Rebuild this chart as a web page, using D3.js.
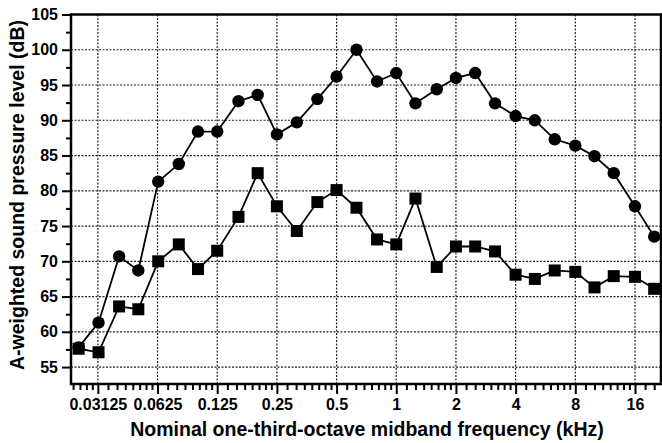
<!DOCTYPE html>
<html>
<head>
<meta charset="utf-8">
<script src="https://cdn.jsdelivr.net/npm/d3@7"></script>
<style>
  body { margin: 0; background: #fff; }
  text { font-family: "Liberation Sans", Arial, sans-serif; }
</style>
</head>
<body>
<div id="container"></div>
<script>
/* CONSTANTS AND GLOBALS */
const width = 662;
const height = 443;
const margin = { top: 14.5, right: 1, bottom: 59, left: 71 };

// nominal one-third-octave midband frequencies (kHz)
const frequencies = [0.025, 0.0315, 0.04, 0.05, 0.063, 0.08, 0.1, 0.125, 0.16, 0.2,
  0.25, 0.315, 0.4, 0.5, 0.63, 0.8, 1, 1.25, 1.6, 2,
  2.5, 3.15, 4, 5, 6.3, 8, 10, 12.5, 16, 20];

// circles
const levelA = [57.8, 61.3, 70.7, 68.7, 81.3, 83.8, 88.4, 88.4, 92.7, 93.6,
  88.0, 89.7, 93.0, 96.2, 100.0, 95.5, 96.7, 92.4, 94.4, 96.0,
  96.7, 92.4, 90.6, 90.0, 87.3, 86.4, 84.9, 82.5, 77.8, 73.5];

// squares
const levelB = [57.6, 57.1, 63.6, 63.2, 70.0, 72.4, 68.9, 71.5, 76.3, 82.5,
  77.8, 74.3, 78.4, 80.1, 77.6, 73.1, 72.4, 78.9, 69.2, 72.1,
  72.1, 71.4, 68.1, 67.5, 68.7, 68.5, 66.3, 67.9, 67.8, 66.1];

const xTicks = [0.03125, 0.0625, 0.125, 0.25, 0.5, 1, 2, 4, 8, 16];
const xTickLabels = ["0.03125", "0.0625", "0.125", "0.25", "0.5", "1", "2", "4", "8", "16"];
const yTicks = [55, 60, 65, 70, 75, 80, 85, 90, 95, 100, 105];
const yGrid = [55, 60, 65, 70, 75, 80, 85, 90, 95, 100];
const yMinor = [57.5, 62.5, 67.5, 72.5, 77.5, 82.5, 87.5, 92.5, 97.5, 102.5];

/* SCALES */
const xScale = d3.scaleLog()
  .base(2)
  .domain([Math.pow(2, -5.45), Math.pow(2, 4.436)])
  .range([margin.left, width - margin.right]);

const yScale = d3.scaleLinear()
  .domain([52.6, 105])
  .range([height - margin.bottom, margin.top]);

// minor x ticks: eighths inside each octave
const xMinor = [];
for (let p = -7; p <= 4; p++) {
  for (let k = 1; k < 8; k++) {
    const f = Math.pow(2, p) * (1 + k / 8);
    if (f > xScale.domain()[0] && f < xScale.domain()[1]) xMinor.push(f);
  }
}

/* HTML ELEMENTS */
const svg = d3.select("#container")
  .append("svg")
  .attr("width", width)
  .attr("height", height);

// grid
svg.append("g")
  .selectAll("line")
  .data(yGrid)
  .join("line")
  .attr("x1", margin.left)
  .attr("x2", width - margin.right)
  .attr("y1", d => yScale(d))
  .attr("y2", d => yScale(d))
  .attr("stroke", "#222")
  .attr("stroke-width", 1.2)
  .attr("stroke-dasharray", "2,1.5");

svg.append("g")
  .selectAll("line")
  .data(xTicks)
  .join("line")
  .attr("x1", d => xScale(d))
  .attr("x2", d => xScale(d))
  .attr("y1", margin.top)
  .attr("y2", height - margin.bottom)
  .attr("stroke", "#222")
  .attr("stroke-width", 1.2)
  .attr("stroke-dasharray", "2,1.5");

// x axis
const xAxis = d3.axisBottom(xScale)
  .tickValues(xTicks)
  .tickFormat((d, i) => xTickLabels[i])
  .tickSize(10)
  .tickPadding(5);

const gx = svg.append("g")
  .attr("transform", `translate(0, ${height - margin.bottom})`)
  .style("font-size", "16px")
  .style("font-weight", "bold")
  .call(xAxis);
gx.select(".domain").remove();
gx.selectAll("line").attr("stroke-width", 2);

svg.append("g")
  .attr("transform", `translate(0, ${height - margin.bottom})`)
  .call(d3.axisBottom(xScale).tickValues(xMinor).tickSize(6).tickFormat(""))
  .call(g => g.select(".domain").remove())
  .selectAll("line").attr("stroke-width", 2);

// y axis
const yAxis = d3.axisLeft(yScale)
  .tickValues(yTicks)
  .tickSize(9)
  .tickPadding(4);

const gy = svg.append("g")
  .attr("transform", `translate(${margin.left}, 0)`)
  .style("font-size", "16px")
  .style("font-weight", "bold")
  .call(yAxis);
gy.select(".domain").remove();
gy.selectAll("line").attr("stroke-width", 2);

svg.append("g")
  .attr("transform", `translate(${margin.left}, 0)`)
  .call(d3.axisLeft(yScale).tickValues(yMinor).tickSize(5).tickFormat(""))
  .call(g => g.select(".domain").remove())
  .selectAll("line").attr("stroke-width", 2);

// frame
svg.append("rect")
  .attr("x", margin.left)
  .attr("y", margin.top)
  .attr("width", width - margin.right - margin.left)
  .attr("height", height - margin.bottom - margin.top)
  .attr("fill", "none")
  .attr("stroke", "#000")
  .attr("stroke-width", 2.5);

// lines
const line = d3.line()
  .x((d, i) => xScale(frequencies[i]))
  .y(d => yScale(d));

svg.append("path")
  .datum(levelA)
  .attr("d", line)
  .attr("fill", "none")
  .attr("stroke", "#000")
  .attr("stroke-width", 1.8);

svg.append("path")
  .datum(levelB)
  .attr("d", line)
  .attr("fill", "none")
  .attr("stroke", "#000")
  .attr("stroke-width", 1.8);

// markers
svg.selectAll(".dot")
  .data(levelA)
  .join("circle")
  .attr("class", "dot")
  .attr("cx", (d, i) => xScale(frequencies[i]))
  .attr("cy", d => yScale(d))
  .attr("r", 6.2)
  .attr("fill", "#000");

svg.selectAll(".sq")
  .data(levelB)
  .join("rect")
  .attr("class", "sq")
  .attr("x", (d, i) => xScale(frequencies[i]) - 6)
  .attr("y", d => yScale(d) - 6)
  .attr("width", 12)
  .attr("height", 12)
  .attr("fill", "#000");

// axis titles
svg.append("text")
  .attr("x", 367)
  .attr("y", 436)
  .attr("text-anchor", "middle")
  .style("font-size", "19.5px")
  .style("font-weight", "bold")
  .text("Nominal one-third-octave midband frequency (kHz)");

svg.append("text")
  .attr("transform", `translate(24, 195) rotate(-90)`)
  .attr("text-anchor", "middle")
  .style("font-size", "19.5px")
  .style("font-weight", "bold")
  .text("A-weighted sound pressure level (dB)");
</script>
</body>
</html>
